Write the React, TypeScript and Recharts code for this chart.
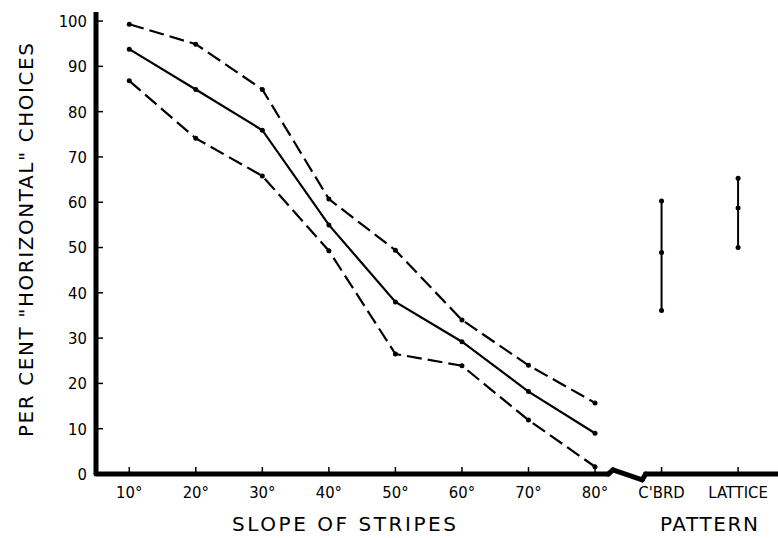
import { ComposedChart, Line, XAxis, YAxis, ReferenceLine } from "recharts";

const slopes = ["10°", "20°", "30°", "40°", "50°", "60°", "70°", "80°"];
const upper = [99.3, 94.9, 84.9, 60.7, 49.4, 34.0, 24.0, 15.7];
const mean = [93.8, 84.9, 75.9, 55.0, 38.0, 29.2, 18.2, 9.0];
const lower = [86.8, 74.1, 65.8, 49.3, 26.5, 23.9, 11.9, 1.6];

const patterns = ["C'BRD", "LATTICE"];
const cbrd = [36.1, 48.9, 60.3];
const lattice = [50.0, 58.7, 65.3];

const yTicks = [0, 10, 20, 30, 40, 50, 60, 70, 80, 90, 100];

// where the two pattern columns sit on the x scale (slopes are 1..8)
const PATTERN_POS = [9, 10.15];
const FONT = "'DejaVu Sans Condensed', 'DejaVu Sans'";
const TITLE_FONT = "'DejaVu Sans'";

const rows = slopes.map((s, i) => ({ x: i + 1, upper: upper[i], mean: mean[i], lower: lower[i] }));
const cbrdPts = cbrd.map((v) => ({ x: PATTERN_POS[0], y: v }));
const latticePts = lattice.map((v) => ({ x: PATTERN_POS[1], y: v }));
const xTicks = [...slopes.map((_, i) => i + 1), ...PATTERN_POS];
const xLabels = [...slopes, ...patterns];

const fmtX = (v: number) => xLabels[xTicks.indexOf(v)] ?? "";

// x axis with the break between 80° and the pattern columns
const axisPath = [
  { x: 0.5, y: 0 }, { x: 8.2, y: 0 }, { x: 8.27, y: 0.9 },
  { x: 8.71, y: -1.3 }, { x: 8.76, y: 0 }, { x: 10.75, y: 0 },
];

const dot = { r: 2.5, fill: "#000", stroke: "#000", strokeWidth: 0 };

export default function App() {
  return (
    <div style={{ position: "absolute", left: 0, top: 0, width: 778, height: 538, background: "#fff" }}>
      <ComposedChart width={778} height={538} data={rows} margin={{ top: 12, right: 0, left: 0, bottom: 0 }}>
        <XAxis
          type="number"
          dataKey="x"
          domain={[0.5, 10.75]}
          ticks={xTicks}
          tickFormatter={fmtX}
          axisLine={false}
          tickLine={{ stroke: "#000", strokeWidth: 1.5 }}
          tickSize={-7}
          tickMargin={19}
          height={64}
          interval={0}
          tick={{ fontSize: 16.5, fill: "#000", fontFamily: FONT }}
        />
        <YAxis
          type="number"
          domain={[0, 102]}
          ticks={yTicks}
          width={96}
          axisLine={{ stroke: "#000", strokeWidth: 5 }}
          tickLine={{ stroke: "#000", strokeWidth: 1.5 }}
          tickSize={-7}
          tickMargin={16}
          tick={{ fontSize: 16.5, fill: "#000", fontFamily: FONT }}
        />
        {axisPath.slice(1).map((p, i) => (
          <ReferenceLine
            key={i}
            segment={[axisPath[i], p]}
            stroke="#000"
            strokeWidth={5}
            strokeLinecap="round"
            ifOverflow="visible"
          />
        ))}
        <Line dataKey="upper" stroke="#000" strokeWidth={2.2} strokeDasharray="15 6" dot={dot} isAnimationActive={false} />
        <Line dataKey="mean" stroke="#000" strokeWidth={2.2} dot={dot} isAnimationActive={false} />
        <Line dataKey="lower" stroke="#000" strokeWidth={2.2} strokeDasharray="15 6" dot={dot} isAnimationActive={false} />
        <Line data={cbrdPts} dataKey="y" stroke="#000" strokeWidth={2} dot={dot} isAnimationActive={false} />
        <Line data={latticePts} dataKey="y" stroke="#000" strokeWidth={2} dot={dot} isAnimationActive={false} />
      </ComposedChart>
      <svg width={778} height={538} style={{ position: "absolute", left: 0, top: 0, pointerEvents: "none" }}>
        <text
          x={0}
          y={0}
          transform="translate(33,240) rotate(-90)"
          textAnchor="middle"
          fontFamily={TITLE_FONT}
          fontSize={20}
          textLength={394}
          lengthAdjust="spacing"
          fill="#000"
        >
          PER CENT "HORIZONTAL" CHOICES
        </text>
        <text
          x={344}
          y={531}
          textAnchor="middle"
          fontFamily={TITLE_FONT}
          fontSize={20}
          textLength={224}
          lengthAdjust="spacing"
          fill="#000"
        >
          SLOPE OF STRIPES
        </text>
        <text
          x={709}
          y={531}
          textAnchor="middle"
          fontFamily={TITLE_FONT}
          fontSize={20}
          textLength={98}
          lengthAdjust="spacing"
          fill="#000"
        >
          PATTERN
        </text>
      </svg>
    </div>
  );
}
